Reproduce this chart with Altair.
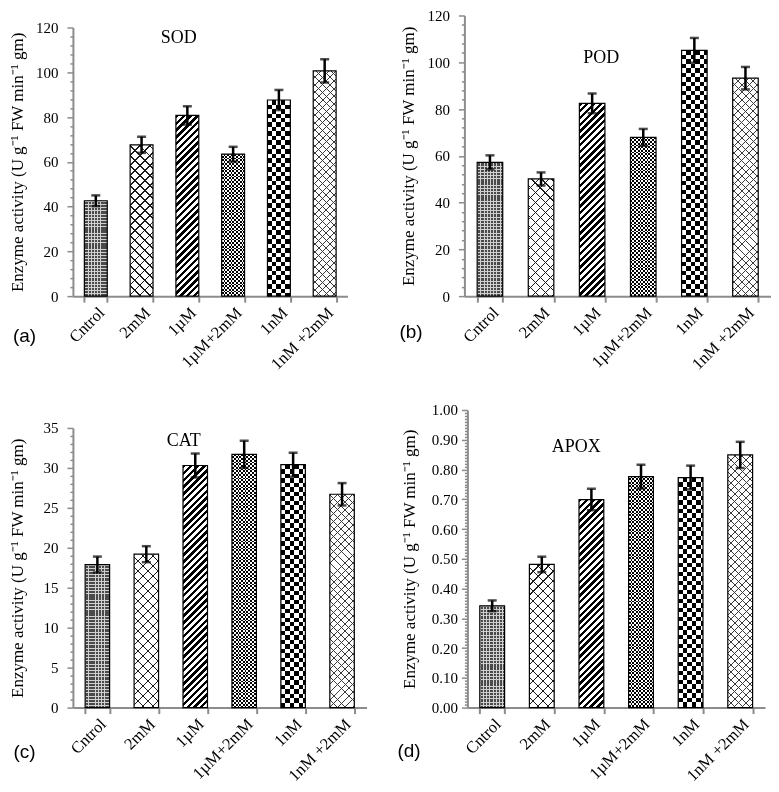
import altair as alt
import pandas as pd

categories = ["Cntrol", "2mM", "1µM", "1µM+2mM", "1nM", "1nM +2mM"]

sod = [42.6, 67.6, 80.7, 63.4, 87.6, 100.6]
sod_err = [2.4, 3.6, 4.1, 3.3, 4.5, 5.2]
pod = [57.2, 50.1, 82.4, 67.9, 105.1, 93.2]
pod_err = [3.0, 2.8, 4.2, 3.6, 5.3, 4.8]
cat = [17.9, 19.2, 30.3, 31.7, 30.4, 26.7]
cat_err = [1.0, 1.0, 1.5, 1.7, 1.5, 1.4]
apox = [0.342, 0.481, 0.699, 0.776, 0.773, 0.849]
apox_err = [0.018, 0.026, 0.036, 0.040, 0.040, 0.044]

YTITLE = "Enzyme activity (U g\u207b\u00b9 FW min\u207b\u00b9 gm)"
AXC = "#8c8c8c"
SERIF = "Liberation Serif"
CLEAR = "rgba(255,255,255,0)"


def band_stops(n, frac, c1, c2):
    stops = []
    k = 0
    while k / n < 1:
        a = k / n
        b = min((k + frac) / n, 1)
        c = min((k + 1) / n, 1)
        stops += [{"offset": a, "color": c1}, {"offset": b, "color": c1}]
        if b < 1:
            stops += [{"offset": b, "color": c2}, {"offset": c, "color": c2}]
        k += 1
    return stops


def diag(w, h, period, frac, c1, c2, up=True):
    s = (w + h) / (w * w + h * h)
    if up:
        x1, y1, x2, y2 = 0, 0, s * w, s * h
    else:
        x1, y1, x2, y2 = 0, 1, s * w, 1 - s * h
    return {"gradient": "linear", "x1": x1, "y1": y1, "x2": x2, "y2": y2,
            "stops": band_stops((w + h) / period, frac, c1, c2)}


def vstripes(w, period, frac, c1, c2):
    return {"gradient": "linear", "x1": 0, "y1": 0, "x2": 1, "y2": 0,
            "stops": band_stops(w / period, frac, c1, c2)}


def hstripes(h, period, frac, c1, c2):
    return {"gradient": "linear", "x1": 0, "y1": 0, "x2": 0, "y2": 1,
            "stops": band_stops(h / period, frac, c1, c2)}


def fill_layers(idx, w, h):
    """Mark settings drawn for one bar, from its pixel size."""
    if idx == 0:   # dark dotted
        return [dict(fill="#4a4a4a"),
                dict(fill=vstripes(w, 3.2, 0.3, "#d0d0d0", CLEAR)),
                dict(fill=hstripes(h, 3.2, 0.3, "#d0d0d0", CLEAR))]
    if idx == 1:   # brick / zigzag
        return [dict(fill="white"),
                dict(fill=diag(w, h, 10.0, 0.12, "#1a1a1a", CLEAR, True)),
                dict(fill=diag(w, h, 10.0, 0.12, "#1a1a1a", CLEAR, False))]
    if idx == 2:   # diagonal stripes
        return [dict(fill=diag(w, h, 6.8, 0.5, "black", "white", True))]
    if idx == 3:   # fine checker
        return [dict(fill=vstripes(w, 3.6, 0.55, "black", "white")),
                dict(fill=hstripes(h, 3.6, 0.45, "white", "black"), blend="difference")]
    if idx == 4:   # coarse checker
        return [dict(fill=vstripes(w, 9.0, 0.5, "black", "white")),
                dict(fill=hstripes(h, 9.0, 0.5, "white", "black"), blend="difference")]
    return [dict(fill="white"),   # cross hatch
            dict(fill=diag(w, h, 7.6, 0.13, "#3a3a3a", CLEAR, True)),
            dict(fill=diag(w, h, 7.6, 0.13, "#3a3a3a", CLEAR, False))]


def panel(name, letter, values, errs, ymax, major, minor, fmt, W, H, rng,
          tdx, tdy, ldx, ldy, tpad, lpad):
    df = pd.DataFrame({
        "cat": categories,
        "v": values,
        "lo": [v - e for v, e in zip(values, errs)],
        "hi": [v + e for v, e in zip(values, errs)],
    })
    n = int(round(ymax / minor))
    tvals = [round(i * minor, 6) for i in range(n + 1)]
    is_major = f"abs(datum.value/{major} - round(datum.value/{major})) < 1e-6"
    yaxis = alt.Axis(
        title=YTITLE, values=tvals, format=fmt,
        labelExpr=f"{is_major} ? datum.label : ''",
        labelOverlap=False, labelPadding=lpad, labelFontSize=15,
        tickSize={"condition": {"test": is_major, "value": 6}, "value": 3},
        tickWidth=1.5, grid=False, titlePadding=tpad,
    )
    yscale = alt.Scale(domain=[0, ymax], nice=False, zero=True, range=rng)
    x = alt.X("cat:N", sort=categories,
              scale=alt.Scale(domain=categories, paddingInner=0.5, paddingOuter=0.25),
              axis=alt.Axis(title=None, labelAngle=315, tickBand="extent",
                            labelPadding=2, labelFontSize=16.5, tickSize=6, tickWidth=2))
    y = alt.Y("v:Q", scale=yscale, axis=yaxis)
    base = alt.Chart(df)
    bw = W / 12.0
    pix = (rng[0] - rng[1]) / ymax
    layers = []
    for i, c in enumerate(categories):
        h = max(values[i] * pix, 1.0)
        for kw in fill_layers(i, bw, h):
            layers.append(
                base.transform_filter(alt.datum.cat == c)
                .mark_bar(strokeWidth=0, **kw).encode(x=x, y=y)
            )
    layers.append(base.mark_bar(fillOpacity=0, stroke="black", strokeWidth=1.2).encode(x=x, y=y))
    layers.append(base.mark_rule(color="black", strokeWidth=2.5).encode(
        x=x, y=alt.Y("lo:Q", scale=yscale, axis=yaxis), y2="hi:Q"))
    for fld in ("lo", "hi"):
        layers.append(base.mark_tick(color="black", size=9, thickness=2.5).encode(
            x=x, y=alt.Y(f"{fld}:Q", scale=yscale, axis=yaxis)))
    layers.append(alt.Chart(pd.DataFrame({"t": [name]})).mark_text(
        font=SERIF, fontSize=18, color="black", align="center", baseline="middle"
    ).encode(text="t:N", x=alt.value(tdx), y=alt.value(tdy)))
    layers.append(alt.Chart(pd.DataFrame({"t": [letter]})).mark_text(
        font="Liberation Sans", fontSize=19, color="black", align="center", baseline="middle"
    ).encode(text="t:N", x=alt.value(ldx), y=alt.value(ldy)))
    return alt.layer(*layers).properties(width=W, height=H)


pa = panel("SOD", "(a)", sod, sod_err, 120, 20, 4, "d", 275, 281, [281, 12],
           106, 23, -48.5, 321, 9, 9)
pb = panel("POD", "(b)", pod, pod_err, 120, 20, 4, "d", 307, 281, [281, 0],
           137, 43, -53.5, 317, 9, 9)
pc = panel("CAT", "(c)", cat, cat_err, 35, 5, 1, "d", 294, 300, [300, 20],
           111, 33, -48.5, 344, 16, 9)
pd_ = panel("APOX", "(d)", apox, apox_err, 1.0, 0.1, 0.01, ".2f", 298, 300, [300, 2],
            109, 39, -58.5, 343, 13, 4)

row1 = alt.hconcat(pa, pb, spacing=51)
row2 = alt.hconcat(pc, pd_, spacing=30)
chart = alt.vconcat(row1, row2, spacing=30).properties(
    padding=0
).configure_view(stroke=None).configure_axis(
    labelFont=SERIF, labelColor="black",
    titleFont=SERIF, titleFontSize=17, titleFontWeight="normal", titleColor="black",
    domainColor=AXC, domainWidth=2, tickColor=AXC,
)

chart.save("out.html", embed_options={"renderer": "svg", "actions": False})
